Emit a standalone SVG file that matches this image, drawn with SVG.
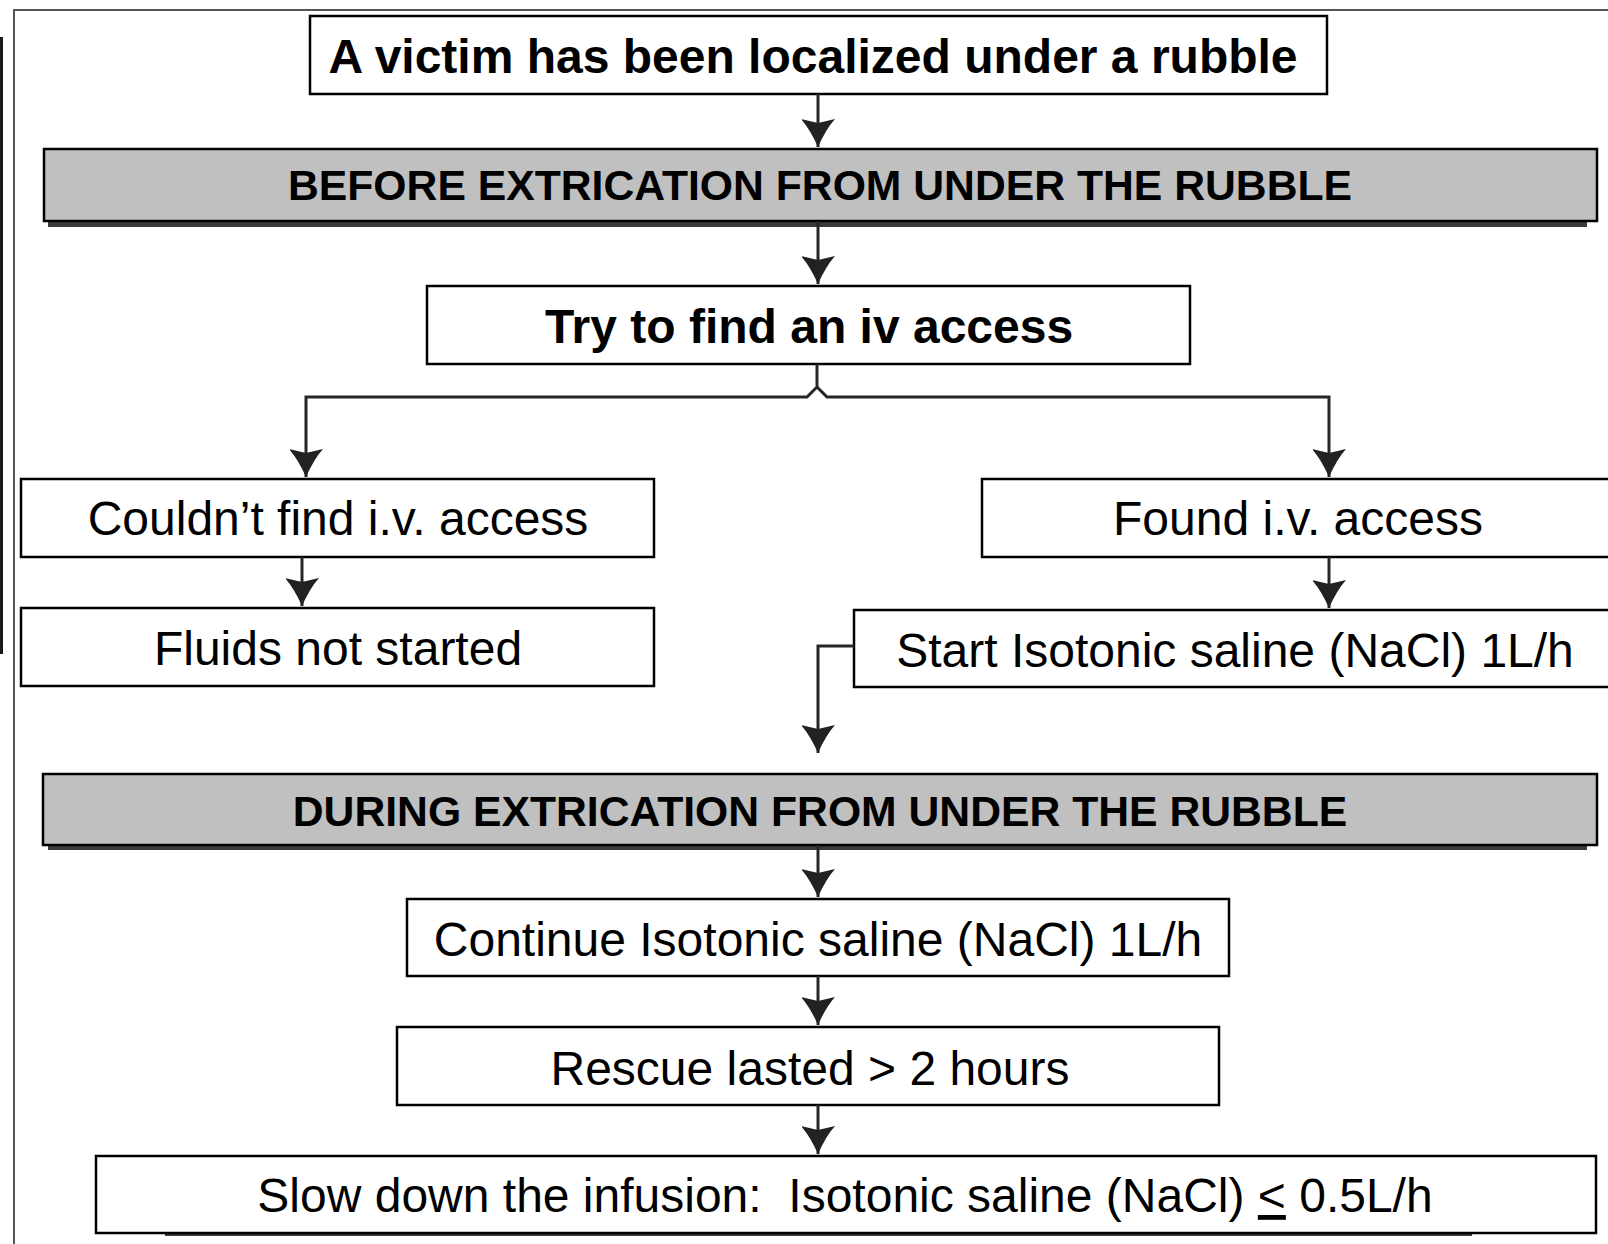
<svg xmlns="http://www.w3.org/2000/svg" width="1608" height="1244" viewBox="0 0 1608 1244">
<style>
.box{fill:#fff;stroke:#000;stroke-width:2.5}
.ban{fill:#c0c0c0;stroke:#000;stroke-width:2.5}
.shd{fill:#3a3a3a}
.con{fill:none;stroke:#262626;stroke-width:3}
.t{font-family:"Liberation Sans",Arial,sans-serif;font-size:48px;fill:#000;text-anchor:middle;white-space:pre}
.b{font-weight:bold}
.bt{font-family:"Liberation Sans",Arial,sans-serif;font-size:42.7px;font-weight:bold;fill:#000;text-anchor:middle}
</style>
<defs>
<marker id="ah" markerUnits="userSpaceOnUse" markerWidth="40" markerHeight="34" refX="36" refY="18" orient="auto">
<path d="M36,18 Q18,10 8,1 L12,18 L8,35 Q18,26 36,18 Z" fill="#222"/>
</marker>
</defs>
<rect width="1608" height="1244" fill="#fff"/>
<path d="M1612,10 H14 V1248" fill="none" stroke="#555" stroke-width="2"/>
<line x1="1.5" y1="37" x2="1.5" y2="654" stroke="#1a1a1a" stroke-width="3"/>

<g id="n-victim">
<rect class="box" x="310" y="16" width="1017" height="78"/>
<text class="t b" x="813" y="73">A victim has been localized under a rubble</text>
</g>
<g id="n-before">
<rect class="shd" x="48" y="156" width="1539" height="71"/>
<rect class="ban" x="44" y="149" width="1553" height="72"/>
<text class="bt" x="820" y="200">BEFORE EXTRICATION FROM UNDER THE RUBBLE</text>
</g>
<g id="n-try">
<rect class="box" x="427" y="286" width="763" height="78"/>
<text class="t b" x="809" y="343">Try to find an iv access</text>
</g>
<g id="n-couldnt">
<rect class="box" x="21" y="479" width="633" height="78"/>
<text class="t" x="338" y="535">Couldn’t find i.v. access</text>
</g>
<g id="n-fluids">
<rect class="box" x="21" y="608" width="633" height="78"/>
<text class="t" x="338" y="665">Fluids not started</text>
</g>
<g id="n-found">
<rect class="box" x="982" y="479" width="640" height="78"/>
<text class="t" x="1298" y="535">Found i.v. access</text>
</g>
<g id="n-start">
<rect class="box" x="854" y="610" width="770" height="77"/>
<text class="t" x="1235" y="667">Start Isotonic saline (NaCl) 1L/h</text>
</g>
<g id="n-during">
<rect class="shd" x="48" y="780" width="1539" height="70"/>
<rect class="ban" x="43" y="774" width="1554" height="71"/>
<text class="bt" x="820" y="826">DURING EXTRICATION FROM UNDER THE RUBBLE</text>
</g>
<g id="n-continue">
<rect class="box" x="407" y="899" width="822" height="77"/>
<text class="t" x="818" y="956">Continue Isotonic saline (NaCl) 1L/h</text>
</g>
<g id="n-rescue">
<rect class="box" x="397" y="1027" width="822" height="78"/>
<text class="t" x="810" y="1085">Rescue lasted &gt; 2 hours</text>
</g>
<g id="n-slow">
<rect class="shd" x="165" y="1160" width="1307" height="76"/>
<rect class="box" x="96" y="1156" width="1500" height="77"/>
<text class="t" x="845" y="1212">Slow down the infusion:  Isotonic saline (NaCl) <tspan text-decoration="underline">&lt;</tspan> 0.5L/h</text>
</g>

<g id="connectors">
<path class="con" d="M818,94 V147" marker-end="url(#ah)"/>
<path class="con" d="M818,221 V284" marker-end="url(#ah)"/>
<path class="con" d="M817,364 V387 L807,397 H306 V477" marker-end="url(#ah)"/>
<path class="con" d="M817,387 L827,397 H1329 V477" marker-end="url(#ah)"/>
<path class="con" d="M302,557 V606" marker-end="url(#ah)"/>
<path class="con" d="M1329,557 V608" marker-end="url(#ah)"/>
<path class="con" d="M854,646 H818 V753" marker-end="url(#ah)"/>
<path class="con" d="M818,845 V897" marker-end="url(#ah)"/>
<path class="con" d="M818,976 V1025" marker-end="url(#ah)"/>
<path class="con" d="M818,1105 V1154" marker-end="url(#ah)"/>
</g>
</svg>
